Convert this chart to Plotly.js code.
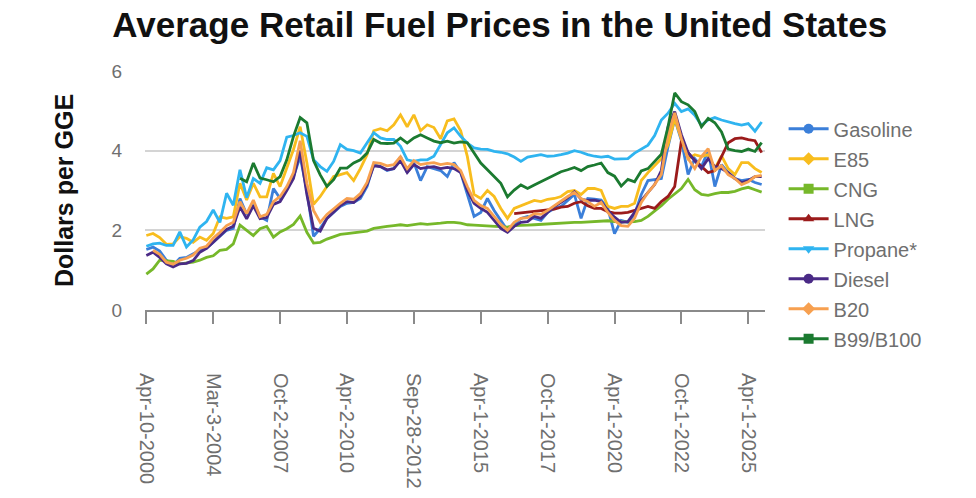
<!DOCTYPE html>
<html>
<head>
<meta charset="utf-8">
<script src="https://cdn.plot.ly/plotly-3.0.1.min.js"></script>
<style>
  html, body {margin:0; padding:0; background:#fff;}
  #plot {width:976px; height:498px;}
</style>
</head>
<body>
<div id="plot"></div>
<script>
// survey points (dollars per GGE)
var tickPos = [0, 10, 20, 30, 40, 50, 60, 70, 80, 90];
var tickLabels = ['Apr-10-2000', 'Mar-3-2004', 'Oct-2-2007', 'Apr-2-2010', 'Sep-28-2012',
   'Apr-1-2015', 'Oct-1-2017', 'Apr-1-2020', 'Oct-1-2022', 'Apr-1-2025'];

var gasoline = [1.52,1.58,1.48,1.25,1.12,1.30,1.32,1.40,1.50,1.55,
   1.70,1.85,2.00,2.05,2.80,2.40,2.70,2.34,2.25,3.05,
   2.80,3.05,3.35,3.85,3.00,1.85,2.05,2.30,2.45,2.60,
   2.68,2.70,2.80,3.10,3.65,3.60,3.50,3.55,3.85,3.45,
   3.70,3.25,3.60,3.55,3.50,3.35,3.70,3.45,2.90,2.35,
   2.45,2.80,2.50,2.25,2.00,2.15,2.30,2.35,2.30,2.25,
   2.45,2.55,2.60,2.75,2.90,2.30,2.80,2.78,2.76,2.55,
   1.92,2.25,2.20,2.40,2.90,3.25,3.28,3.30,4.10,4.80,
   4.25,3.40,3.80,3.60,4.00,3.10,3.65,3.45,3.30,3.25,
   3.28,3.20,3.15];
var e85 = [1.87,1.92,1.82,1.65,1.66,1.84,1.80,1.70,1.83,1.75,
   1.92,2.34,2.30,2.34,3.18,2.76,3.18,2.84,2.84,3.43,
   3.10,3.55,4.03,4.60,3.70,2.65,2.85,3.10,3.35,3.40,
   3.45,3.25,3.55,3.90,4.50,4.55,4.50,4.65,4.90,4.60,
   4.90,4.50,4.65,4.58,4.30,4.75,4.80,4.50,3.85,2.90,
   2.80,3.00,2.85,2.55,2.30,2.55,2.62,2.70,2.75,2.72,
   2.78,2.80,2.85,2.97,3.00,2.90,3.05,3.05,3.00,2.60,
   2.55,2.60,2.60,2.68,3.25,3.45,3.62,3.80,4.15,4.80,
   4.30,3.80,3.90,3.85,3.90,3.55,3.87,3.55,3.40,3.70,
   3.70,3.55,3.45];
var cng = [0.90,1.03,1.25,1.24,1.22,1.16,1.18,1.20,1.25,1.32,
   1.36,1.50,1.52,1.66,2.13,2.00,1.87,2.04,2.10,1.83,
   1.96,2.04,2.15,2.36,1.95,1.68,1.70,1.78,1.85,1.90,
   1.92,1.94,1.96,1.98,2.05,2.08,2.10,2.12,2.14,2.12,
   2.15,2.17,2.15,2.16,2.18,2.20,2.20,2.18,2.14,2.13,
   2.12,2.12,2.11,2.10,2.08,2.12,2.12,2.13,2.14,2.15,
   2.16,2.18,2.18,2.19,2.20,2.20,2.21,2.21,2.22,2.24,
   2.22,2.21,2.21,2.22,2.25,2.35,2.48,2.62,2.78,2.92,
   3.05,3.28,3.02,2.90,2.88,2.92,2.95,2.95,2.98,3.04,
   3.08,3.02,2.96];
var lng = [null,null,null,null,null,null,null,null,null,null,
   null,null,null,null,null,null,null,null,null,null,
   null,null,null,null,null,null,null,null,null,null,
   null,null,null,null,null,null,null,null,null,null,
   null,null,null,null,null,null,null,null,null,null,
   null,null,null,null,null,2.42,2.44,2.45,2.47,2.50,
   2.51,2.53,2.58,2.60,2.68,2.72,2.62,2.55,2.55,2.47,
   2.43,2.43,2.45,2.50,2.55,2.60,2.55,2.72,2.85,3.10,
   4.25,3.95,3.75,3.60,3.45,3.50,3.85,4.20,4.30,4.32,
   4.28,4.25,3.95];
var propane = [1.60,1.66,1.68,1.62,1.62,1.96,1.58,1.76,2.08,2.22,
   2.51,2.20,2.93,2.63,3.52,2.82,3.30,3.18,3.57,3.52,
   3.75,4.34,4.38,4.45,4.36,3.77,3.60,3.48,3.73,4.15,
   4.03,4.00,3.94,4.19,4.45,4.32,4.28,4.28,4.11,3.77,
   3.73,3.77,3.77,3.86,4.15,4.45,4.57,4.36,4.19,4.07,
   4.04,4.03,3.98,3.96,3.92,3.84,3.73,3.84,3.87,3.90,
   3.86,3.87,3.90,3.94,4.00,3.96,3.90,3.86,3.84,3.86,
   3.79,3.79,3.80,3.94,4.04,4.14,4.38,4.77,4.94,5.19,
   4.98,5.05,4.89,4.64,4.77,4.83,4.77,4.72,4.68,4.64,
   4.68,4.49,4.72];
var diesel = [1.37,1.45,1.32,1.16,1.08,1.16,1.17,1.24,1.45,1.55,
   1.70,1.85,2.02,2.10,2.59,2.29,2.62,2.29,2.32,2.65,
   2.72,3.00,3.30,4.00,2.90,2.05,1.98,2.30,2.45,2.62,
   2.72,2.70,2.85,3.15,3.62,3.60,3.52,3.55,3.75,3.45,
   3.65,3.55,3.58,3.60,3.55,3.58,3.55,3.45,3.00,2.68,
   2.55,2.45,2.25,2.05,1.95,2.10,2.20,2.22,2.35,2.30,
   2.45,2.60,2.70,2.82,2.97,2.78,2.75,2.76,2.72,2.50,
   2.33,2.20,2.22,2.45,2.75,2.95,3.15,3.50,4.60,4.98,
   4.40,3.95,3.75,3.55,3.80,3.60,3.55,3.45,3.30,3.20,
   3.25,3.35,3.35];
var b20 = [null,1.50,1.40,1.20,1.15,1.25,1.30,1.38,1.55,1.60,
   1.80,1.95,2.12,2.20,2.72,2.42,2.76,2.34,2.40,2.72,
   2.85,3.10,3.45,4.25,3.18,2.50,2.20,2.40,2.55,2.68,
   2.80,2.78,2.92,3.20,3.70,3.68,3.62,3.65,3.85,3.55,
   3.75,3.65,3.68,3.70,3.65,3.68,3.65,3.50,3.10,2.75,
   2.62,2.55,2.35,2.15,2.00,2.20,2.30,2.32,2.42,2.40,
   2.50,2.62,2.72,2.85,2.95,2.80,2.72,2.60,2.70,2.45,
   2.25,2.12,2.10,2.30,2.70,2.95,3.15,3.40,4.40,4.95,
   4.30,3.80,3.55,3.85,4.05,3.50,3.62,3.40,3.30,3.15,
   3.22,3.35,3.38];
var b100 = [null,null,null,null,null,null,null,null,null,null,
   null,null,null,null,3.31,3.22,3.69,3.31,3.27,3.22,
   3.35,3.77,4.36,4.83,4.70,3.75,3.39,3.10,3.27,3.56,
   3.56,3.69,3.77,3.94,4.28,4.19,4.18,4.19,4.32,4.19,
   4.32,4.40,4.32,4.24,4.20,4.24,4.19,4.22,4.20,3.94,
   3.69,3.52,3.35,3.18,2.84,3.01,3.14,3.05,3.14,3.22,
   3.30,3.39,3.47,3.52,3.58,3.50,3.60,3.64,3.69,3.45,
   3.36,3.11,3.28,3.22,3.49,3.55,3.74,3.91,4.60,5.45,
   5.23,5.15,4.98,4.60,4.81,4.70,4.47,4.04,4.00,3.98,
   4.04,3.98,4.20];

var seriesNames = ['Gasoline', 'E85', 'CNG', 'LNG', 'Propane*', 'Diesel', 'B20', 'B99/B100'];
var seriesData = [gasoline, e85, cng, lng, propane, diesel, b20, b100];
var seriesColors = ['#3b7fd9', '#f8bd1e', '#76b82a', '#9b1b1b', '#2fb4f0', '#4a2a86', '#f7a050', '#1b7a30'];
var seriesSymbols = ['circle', 'diamond', 'square', 'triangle-up', 'triangle-down', 'circle', 'diamond', 'square'];

function build_traces(){
   var idx = gasoline.map(function(v, i){ return i; });
   var lines = [];
   var keys = [];
   for (var s = 0; s < seriesNames.length; s++){
      lines.push({
         name: seriesNames[s],
         x: idx,
         y: seriesData[s],
         mode: 'lines',
         showlegend: false,
         hoverinfo: 'x+y',
         line: {width: 2.8, color: seriesColors[s]}
      });
      // legend entry only: line with marker, like the original key
      keys.push({
         name: seriesNames[s],
         x: [null],
         y: [null],
         mode: 'lines+markers',
         legendgroup: 'g' + s,
         line: {width: 3, color: seriesColors[s]},
         marker: {symbol: seriesSymbols[s], size: 10, color: seriesColors[s]}
      });
   }
   return lines.concat(keys);
}

var grayText = '#6f6f6f';

var layout = {
   width: 976,
   height: 498,
   margin: {l: 145, r: 211, t: 71, b: 188},
   paper_bgcolor: '#ffffff',
   plot_bgcolor: '#ffffff',
   title: {
      text: '<b>Average Retail Fuel Prices in the United States</b>',
      font: {family: 'Liberation Sans, Arial, sans-serif', size: 35, color: '#111111'},
      x: 0.512,
      xref: 'container',
      xanchor: 'center',
      y: 0.95,
      yref: 'container',
      yanchor: 'middle'
   },
   xaxis: {
      range: [-0.2, 92.5],
      tickmode: 'array',
      tickvals: tickPos,
      ticktext: tickLabels,
      tickangle: 90,
      ticks: 'outside',
      ticklen: 12,
      tickwidth: 2,
      tickcolor: '#8a8a8a',
      ticklabelstandoff: 45,
      tickfont: {family: 'Liberation Sans, Arial, sans-serif', size: 20, color: grayText},
      showgrid: false,
      zeroline: false,
      showline: true,
      linecolor: '#8a8a8a',
      linewidth: 2,
      fixedrange: true
   },
   yaxis: {
      range: [0, 6],
      tickvals: [0, 2, 4, 6],
      ticks: '',
      ticklabelstandoff: 22,
      tickfont: {family: 'Liberation Sans, Arial, sans-serif', size: 19, color: grayText},
      showgrid: true,
      gridcolor: '#d4d4d4',
      gridwidth: 2,
      zeroline: false,
      showline: false,
      title: {
         text: '<b>Dollars per GGE</b>',
         font: {family: 'Liberation Sans, Arial, sans-serif', size: 25, color: '#111111'},
         standoff: 30
      },
      fixedrange: true
   },
   legend: {
      x: 1.03,
      xanchor: 'left',
      y: 0.84,
      yanchor: 'top',
      traceorder: 'grouped',
      tracegroupgap: 1,
      itemwidth: 40,
      maxheight: 400,
      font: {family: 'Liberation Sans, Arial, sans-serif', size: 20, color: grayText},
      bgcolor: 'rgba(0,0,0,0)'
   },
   showlegend: true
};

Plotly.newPlot('plot', build_traces(), layout, {displayModeBar: false, staticPlot: true});
</script>
</body>
</html>
